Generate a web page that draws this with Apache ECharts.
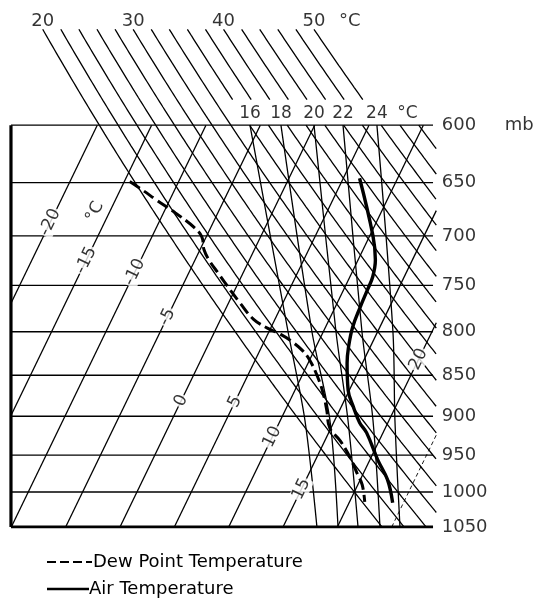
<!DOCTYPE html>
<html><head><meta charset="utf-8">
<script src="https://cdn.jsdelivr.net/npm/echarts@6/dist/echarts.min.js"></script>
<style>html,body{margin:0;padding:0;background:#fff}#c{width:534px;height:601px}</style>
</head><body><div id="c"></div>
<script>
// ---------- data ----------
const pressureLevels = [600, 650, 700, 750, 800, 850, 900, 950, 1000, 1050];
const isothermValues = [-20, -15, -10, -5, 0, 5, 10, 15, 20];
const isothermDashed = [25];
const isothermLabelValues = [-20, -15, -10, -5, 0, 5, 10, 15, 20];
const isothermLabelP = [680, 717, 729, 776, 872, 873, 917, 986, 823];
const dryAdiabatThetas = [20,22,24,26,28,30,32,34,36,38,40,42,44,46,48,50,52,54];
const dryAdiabatLabels = [20, 30, 40, 50];
const moistLabels = [16, 18, 20, 22, 24];
const moistP = [600, 800, 905, 1050];
const moistT16 = [-5.95, 6.76, 12.26, 18.12];
const moistT18 = [-3.10, 8.96, 14.56, 20.06];
const moistT20 = [-0.06, 11.17, 16.22, 21.90];
const moistT22 = [2.61, 13.56, 18.52, 23.92];
const moistT24 = [5.73, 16.41, 20.54, 25.76];
const moistT = [moistT16, moistT18, moistT20, moistT22, moistT24];
const airP = [646, 700, 724, 741, 755, 773, 795, 817, 836, 868, 888, 908, 921, 956, 983, 1015];
const airT = [6.5, 10.3, 11.6, 12.1, 12.2, 12.3, 12.5, 13.0, 13.6, 14.9, 16.1, 17.4, 18.5, 20.7, 22.5, 24.0];
const dewP = [649, 657, 666, 678, 692, 701, 714, 725, 738, 755, 769, 786, 796, 803, 810, 821, 832, 852, 871, 892, 915, 931, 952, 974, 990, 1014];
const dewT = [-14.5, -12.9, -11.2, -8.9, -6.5, -5.4, -4.6, -3.6, -2.2, -0.4, 1.1, 3.0, 4.7, 6.2, 7.4, 8.9, 10.0, 11.5, 12.7, 13.8, 14.9, 16.4, 18.0, 19.4, 20.4, 21.4];
const legendNames = ['Dew Point Temperature', 'Air Temperature'];

// ---------- diagram geometry ----------
const P_REF = 1050, P_TOP = 505, SKEW = 32;
const XMIN = -11.04, XMAX = 38.09;
const XL = -10.03, XR = 29.1, XISO = 28.8;
const INK = '#000';
const FONT = 'DejaVu Sans';
function skewX(T, p) { return T + SKEW * Math.log(P_REF / p); }
function theta2T(th, p) { return (th + 273.15) * Math.pow(p / 1000, 0.2857) - 273.15; }

const series = [];
function addLine(data, width, extra) {
  series.push(Object.assign({
    type: 'line', data: data, symbol: 'none', silent: true, animation: false,
    lineStyle: { color: INK, width: width }, z: 2
  }, extra || {}));
}

// isobars
pressureLevels.forEach(p => addLine([[XL, p], [XISO, p]], 1.4));
// frame
addLine([[XL, 600], [XL, 1050]], 3.2, { z: 5 });
addLine([[XL, 1050], [XISO, 1050]], 2.8, { z: 5 });

// isotherms (straight in skew / log-p space)
function isotherm(T, dashed) {
  let pBot = 1050, pTop = 600;
  if (T < XL) pBot = P_REF * Math.exp(-(XL - T) / SKEW);
  if (skewX(T, 600) > XR) pTop = P_REF * Math.exp(-(XR - T) / SKEW);
  if (pBot <= pTop) return;
  addLine([[skewX(T, pBot), pBot], [skewX(T, pTop), pTop]], dashed ? 0.9 : 1.3,
    dashed ? { lineStyle: { color: INK, width: 0.9, type: [4, 3] } } : {});
}
isothermValues.forEach(T => isotherm(T, false));
isothermDashed.forEach(T => isotherm(T, true));

// dry adiabats
function adiabatSeg(th, p0, p1) {
  const pts = [];
  let prev = null;
  const n = Math.ceil((p1 - p0) / 2.5);
  for (let i = 0; i <= n; i++) {
    const p = p0 + (p1 - p0) * i / n;
    const X = skewX(theta2T(th, p), p);
    if (X > XR) {
      if (prev) {
        const f = (XR - prev[0]) / (X - prev[0]);
        const pc = Math.exp(Math.log(prev[1]) + f * (Math.log(p) - Math.log(prev[1])));
        pts.push([XR, pc]);
      }
      break;
    }
    prev = [X, p];
    pts.push(prev);
  }
  if (pts.length > 1) addLine(pts, 1.3);
}
dryAdiabatThetas.forEach(th => {
  const x600 = skewX(theta2T(th, 600), 600);
  if (th <= 50) {
    if (x600 < 11.2) { adiabatSeg(th, 525, 1050); return; }
    adiabatSeg(th, 525, 579);
  }
  adiabatSeg(th, 600, 1050);
});

// saturated adiabats
moistT.forEach(arr => addLine(moistP.map((p, i) => [skewX(arr[i], p), p]), 1.3, { smooth: 0.3 }));

// soundings
series.push({
  name: legendNames[0], type: 'line', symbol: 'none', smooth: 0.4, silent: true, animation: false, z: 6,
  data: dewP.map((p, i) => [skewX(dewT[i], p), p]),
  lineStyle: { color: INK, width: 3, type: [12, 5] }
});
series.push({
  name: legendNames[1], type: 'line', symbol: 'none', smooth: 0.4, silent: true, animation: false, z: 6,
  data: airP.map((p, i) => [skewX(airT[i], p), p]),
  lineStyle: { color: INK, width: 3.4 }
});

// ---------- text ----------
const texts = [];
function txt(X, p, s, size, more) {
  texts.push({ value: [X, p], label: Object.assign({
    show: true, formatter: s, fontSize: size, color: INK, fontFamily: FONT,
    align: 'center', verticalAlign: 'middle', position: 'inside'
  }, more || {}) });
}
pressureLevels.forEach(p => txt(29.6, p, String(p), 18, { align: 'left' }));
txt(35.4, 600, 'mb', 18, { align: 'left' });
dryAdiabatLabels.forEach(th => txt(skewX(theta2T(th, 525), 525), 519.5, String(th), 18));
txt(skewX(theta2T(50, 525), 525) + 3.3, 519.5, '°C', 18);
moistLabels.forEach((L, i) => txt(skewX(moistT[i][0], 600), 590, String(L), 17));
txt(skewX(moistT24[0], 600) + 2.8, 590, '°C', 17);
isothermLabelValues.forEach((T, i) => txt(skewX(T, isothermLabelP[i]), isothermLabelP[i], String(T), 17,
  { rotate: 64, offset: [-8, 0], backgroundColor: '#fff', padding: [0, 1] }));
txt(-2.3, 677, '°C', 17, { rotate: 64 });

series.push({
  type: 'scatter', symbolSize: 0, silent: true, animation: false, z: 10, data: texts
});

const chart = echarts.init(document.getElementById('c'), null, { renderer: 'canvas' });
chart.setOption({
  backgroundColor: '#fff',
  animation: false,
  grid: { left: 0, right: 0, top: 1.4, bottom: 74 },
  xAxis: { type: 'value', min: XMIN, max: XMAX, show: false },
  yAxis: { type: 'log', min: P_TOP, max: P_REF, inverse: true, show: false },
  graphic: [
    { type: 'line', shape: { x1: 47, y1: 562, x2: 92, y2: 562 }, style: { stroke: INK, lineWidth: 2.2, lineDash: [9, 4] } },
    { type: 'text', style: { x: 93, y: 562, text: legendNames[0], font: '18px "DejaVu Sans"', fill: INK, verticalAlign: 'middle', align: 'left' } },
    { type: 'line', shape: { x1: 47, y1: 589, x2: 89, y2: 589 }, style: { stroke: INK, lineWidth: 2.4 } },
    { type: 'text', style: { x: 89, y: 589, text: legendNames[1], font: '18px "DejaVu Sans"', fill: INK, verticalAlign: 'middle', align: 'left' } }
  ],
  series: series
});
</script></body></html>
